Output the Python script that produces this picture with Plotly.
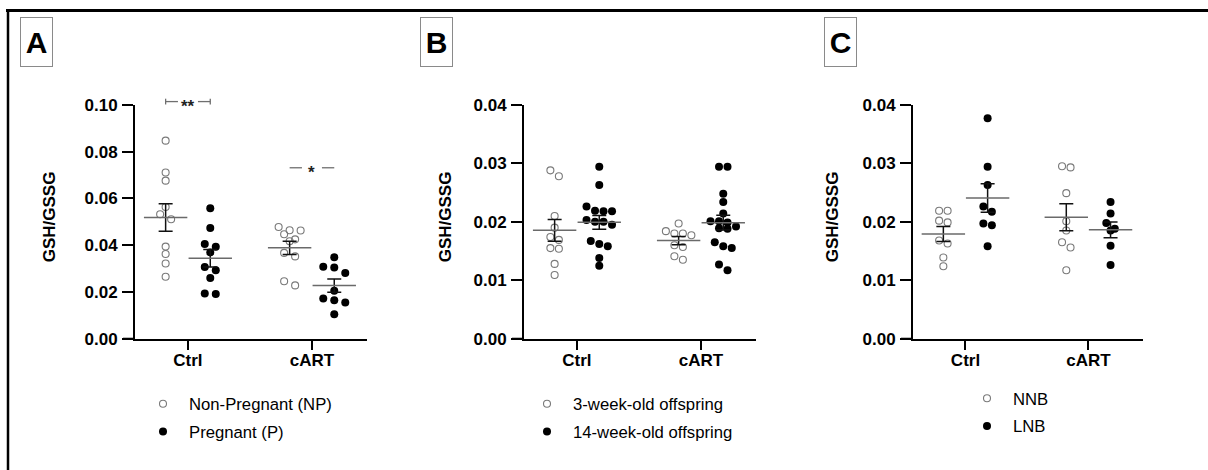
import numpy as np
import plotly.graph_objects as go

# ---------------- data ----------------
categories = ["Ctrl", "cART"]

# Panel A: maternal
a_np_ctrl = [0.0847, 0.0711, 0.0676, 0.0563, 0.0532, 0.0511, 0.0394, 0.0362, 0.0322, 0.0265]
a_p_ctrl = [0.0558, 0.0473, 0.0405, 0.0393, 0.0369, 0.0307, 0.0293, 0.0260, 0.0193, 0.0191]
a_np_cart = [0.0478, 0.0464, 0.0463, 0.0447, 0.0425, 0.0417, 0.0367, 0.0352, 0.0246, 0.0228]
a_p_cart = [0.0348, 0.0308, 0.0305, 0.0281, 0.0205, 0.0172, 0.0165, 0.0155, 0.0105]

# Panel B: offspring age
b_3w_ctrl = [0.0288, 0.0278, 0.0210, 0.0190, 0.0174, 0.0169, 0.0155, 0.0154, 0.0128, 0.0109]
b_14w_ctrl = [0.0294, 0.0263, 0.0226, 0.0219, 0.0218, 0.0218, 0.0203, 0.0200, 0.0200, 0.0195,
              0.0167, 0.0162, 0.0158, 0.0138, 0.0125]
b_3w_cart = [0.0197, 0.0184, 0.0180, 0.0180, 0.0177, 0.0160, 0.0157, 0.0141, 0.0135]
b_14w_cart = [0.0294, 0.0294, 0.0248, 0.0234, 0.0214, 0.0201, 0.0201, 0.0199, 0.0192, 0.0189,
              0.0188, 0.0165, 0.0158, 0.0155, 0.0127, 0.0117]

# Panel C: NNB vs LNB
c_nnb_ctrl = [0.0219, 0.0219, 0.0202, 0.0199, 0.0168, 0.0163, 0.0139, 0.0124]
c_lnb_ctrl = [0.0377, 0.0294, 0.0263, 0.0226, 0.0217, 0.0197, 0.0194, 0.0158]
c_nnb_cart = [0.0295, 0.0293, 0.0249, 0.0201, 0.0185, 0.0165, 0.0156, 0.0117]
c_lnb_cart = [0.0234, 0.0214, 0.0198, 0.0188, 0.0185, 0.0159, 0.0126]

legend_a = ["Non-Pregnant (NP)", "Pregnant (P)"]
legend_b = ["3-week-old offspring", "14-week-old offspring"]
legend_c = ["NNB", "LNB"]
y_title = "GSH/GSSG"

# ---------------- layout constants ----------------
W, H = 1208, 482
SY, OY = 0.957, 9.5               # observed vertical mapping of the page in the capture
FONT = "Liberation Sans, Arial, sans-serif"


def page_y(y_px):
    return (y_px - OY) / SY


def py(y_px):
    """paper y for a target pixel row of the final picture"""
    return (H - page_y(y_px)) / H


Y_BOT, Y_TOP = 338, 105          # px rows of y-axis bottom/top
XR = [0.573, 2.444]              # x range for all panels
panels = [
    dict(x0=135, x1=367, ymax=0.10, dtick=0.02, spacing=11),
    dict(x0=524, x1=756, ymax=0.04, dtick=0.01, spacing=8.5),
    dict(x0=913, x1=1143, ymax=0.04, dtick=0.01, spacing=8.5),
]
OFF = 0.18   # group offset (x data units)


def swarm(vals, ypx, spacing, bin_px=6.5):
    vals = np.asarray(vals, float)
    order = np.argsort(-vals, kind="stable")
    offs = np.zeros(len(vals))
    bins, cur = [], []
    for i in order:
        if cur and (vals[cur[0]] - vals[i]) * ypx > bin_px:
            bins.append(cur)
            cur = []
        cur.append(i)
    bins.append(cur)
    for b in bins:
        n = len(b)
        for k, i in enumerate(b):
            offs[i] = (k - (n - 1) / 2) * spacing
    return offs


fig = go.Figure()

series = [
    (a_np_ctrl, a_p_ctrl, a_np_cart, a_p_cart, legend_a),
    (b_3w_ctrl, b_14w_ctrl, b_3w_cart, b_14w_cart, legend_b),
    (c_nnb_ctrl, c_lnb_ctrl, c_nnb_cart, c_lnb_cart, legend_c),
]

for p, (s_open_c, s_fill_c, s_open_t, s_fill_t, names) in enumerate(series):
    ax = "" if p == 0 else str(p + 1)
    xref, yref = "x" + ax, "y" + ax
    leg = "legend" + ax
    pan = panels[p]
    xpx_per_unit = (pan["x1"] - pan["x0"]) / (XR[1] - XR[0])
    ypx = (Y_BOT - Y_TOP) / pan["ymax"]
    groups = [
        (s_open_c, 1 - OFF, True, True),
        (s_fill_c, 1 + OFF, False, True),
        (s_open_t, 2 - OFF, True, False),
        (s_fill_t, 2 + OFF, False, False),
    ]
    for vals, cx, is_open, show in groups:
        offs = swarm(vals, ypx, pan["spacing"]) / xpx_per_unit
        xs = cx + offs
        if is_open:
            marker = dict(symbol="circle-open", size=7, color="#7a7a7a", line=dict(width=1.1))
            name = names[0]
        else:
            marker = dict(symbol="circle", size=8, color="black")
            name = names[1]
        fig.add_trace(go.Scatter(
            x=xs, y=vals, mode="markers", marker=marker, name=name,
            xaxis=xref, yaxis=yref, showlegend=show, legend=leg,
            legendgroup=f"{p}-{is_open}", hoverinfo="y"))
        arr = np.asarray(vals)
        mean = arr.mean()
        sem = arr.std(ddof=1) / np.sqrt(len(arr))
        fig.add_trace(go.Scatter(
            x=[cx], y=[mean], mode="markers",
            marker=dict(symbol="line-ew", size=31, color="#6a6a6a",
                        line=dict(width=1.5, color="#6a6a6a")),
            error_y=dict(type="data", array=[sem], color="#111", thickness=1.5, width=7),
            xaxis=xref, yaxis=yref, showlegend=False, hoverinfo="skip"))

layout = dict(
    width=W, height=H, autosize=False, margin=dict(l=0, r=0, t=0, b=0),
    paper_bgcolor="white", plot_bgcolor="white",
    font=dict(family=FONT, color="black"),
    showlegend=True,
)
ydom = [py(Y_BOT), py(Y_TOP)]
for p, pan in enumerate(panels):
    ax = "" if p == 0 else str(p + 1)
    layout["xaxis" + ax] = dict(
        domain=[pan["x0"] / W, pan["x1"] / W], range=XR, anchor="y" + ax,
        tickmode="array", tickvals=[1, 2], ticktext=categories,
        showline=True, linewidth=2, linecolor="black", ticks="outside",
        ticklen=9, tickwidth=2, tickcolor="black", showgrid=False, zeroline=False,
        ticklabelstandoff=-4,
        tickfont=dict(size=17, weight="bold", family=FONT), fixedrange=True)
    layout["yaxis" + ax] = dict(
        domain=ydom, range=[0, pan["ymax"]], anchor="x" + ax,
        tickmode="linear", tick0=0, dtick=pan["dtick"], tickformat=".2f",
        showline=True, linewidth=2, linecolor="black", ticks="outside",
        ticklen=11, tickwidth=2, tickcolor="black", showgrid=False, zeroline=False,
        ticklabelstandoff=1,
        tickfont=dict(size=17, weight="bold", family=FONT), fixedrange=True)

leg_pos = [(137, 385.5), (521, 385.5), (961, 380)]
for p, (lx, ly) in enumerate(leg_pos):
    ax = "" if p == 0 else str(p + 1)
    layout["legend" + ax] = dict(
        x=lx / W, y=py(ly), xanchor="left", yanchor="top",
        font=dict(size=16.7, family=FONT), itemwidth=42, tracegroupgap=3,
        bgcolor="rgba(0,0,0,0)", borderwidth=0)

fig.update_layout(**layout)

# panel letters, y titles, axis-line extensions
letters = ["A", "B", "C"]
letter_x = [36.5, 436.5, 840.5]
title_x = [49, 445, 832]
for p in range(3):
    ax = "" if p == 0 else str(p + 1)
    fig.add_annotation(text=f"<b>{letters[p]}</b>", x=letter_x[p] / W, y=py(42),
                       xref="paper", yref="paper", showarrow=False,
                       font=dict(size=30, family=FONT, color="black"),
                       bordercolor="#8a8a8a", borderwidth=1, borderpad=0,
                       width=31, height=48, xanchor="center", yanchor="middle")
    fig.add_annotation(text=f"<b>{y_title}</b>", x=title_x[p] / W, y=py(217),
                       xref="paper", yref="paper", showarrow=False, textangle=-90,
                       font=dict(size=17, family=FONT, color="black"),
                       xanchor="center", yanchor="middle")
    fig.add_shape(type="line", xref=f"x{ax} domain", yref=f"y{ax} domain",
                  x0=-12 / (panels[p]["x1"] - panels[p]["x0"]), x1=0, y0=0, y1=0,
                  line=dict(color="black", width=2))

# significance marks (panel A), y in domain fraction of axis range
sig_col = "#6f6f6f"
ypx_a = page_y(Y_BOT) - page_y(Y_TOP)
xpx_a = (panels[0]["x1"] - panels[0]["x0"]) / (XR[1] - XR[0])
sig = [(1, 0.1014, "**", True), (2, 0.0731, "*", False)]
for cx, yv, txt, caps in sig:
    yd = yv / panels[0]["ymax"]
    gap = 10 / xpx_a
    for xa, xb in [(cx - OFF, cx - gap), (cx + gap, cx + OFF)]:
        fig.add_shape(type="line", xref="x", yref="y domain", x0=xa, x1=xb, y0=yd, y1=yd,
                      line=dict(color=sig_col, width=1.3))
    if caps:
        for xc in (cx - OFF, cx + OFF):
            fig.add_shape(type="line", xref="x", yref="y domain", x0=xc, x1=xc,
                          y0=yd - 3 / ypx_a, y1=yd + 3 / ypx_a,
                          line=dict(color=sig_col, width=1.3))
    fig.add_annotation(text=f"<b>{txt}</b>", x=cx, y=yd, xref="x", yref="y domain",
                       showarrow=False, yanchor="middle", xanchor="center", yshift=-5,
                       font=dict(size=17, family=FONT, color="#222"))

# outer frame (top and left lines)
fig.add_shape(type="line", xref="paper", yref="paper", x0=6 / W, x1=1,
              y0=(H - 1.5) / H, y1=(H - 1.5) / H, line=dict(color="black", width=3))
fig.add_shape(type="line", xref="paper", yref="paper", x0=8 / W, x1=8 / W, y0=0, y1=1,
              line=dict(color="black", width=2.5))

fig.write_html("out.html",
               config={"displayModeBar": False, "responsive": False},
               post_script="document.body.style.margin='0';document.body.style.overflow='hidden';")
